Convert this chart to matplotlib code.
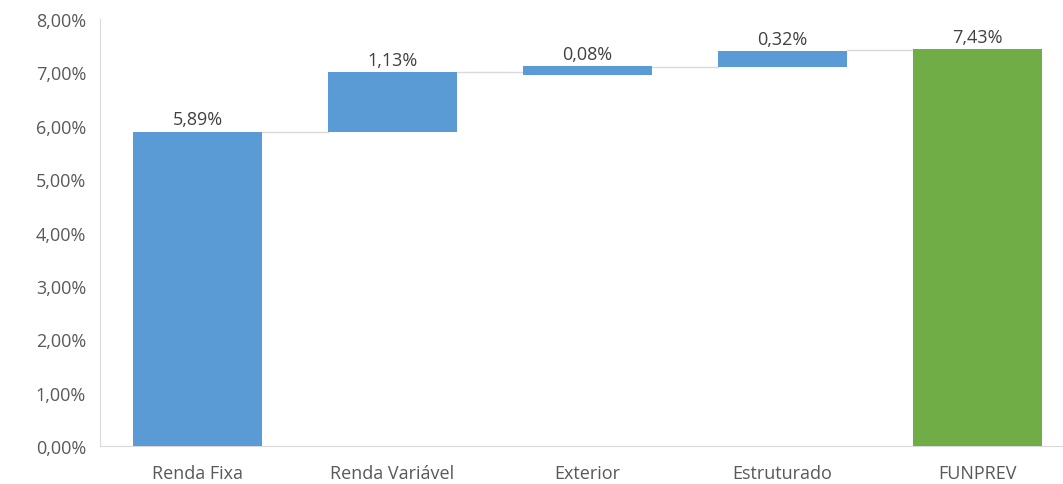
import matplotlib.pyplot as plt
from matplotlib.ticker import FuncFormatter

categories = ['Renda Fixa', 'Renda Variável', 'Exterior', 'Estruturado', 'FUNPREV']
labels = ['5,89%', '1,13%', '0,08%', '0,32%', '7,43%']
# bar extents as they appear in the picture (in %)
bottoms = [0.0, 5.89, 6.95, 7.10, 0.0]
tops = [5.89, 7.00, 7.12, 7.40, 7.43]
# connector levels between consecutive bars
links = [5.89, 7.00, 7.09, 7.42]
colors = ['#5B9BD5', '#5B9BD5', '#5B9BD5', '#5B9BD5', '#70AD47']

plt.rcParams['font.family'] = ['Open Sans', 'DejaVu Sans']

fig = plt.figure(figsize=(10.63, 4.85), dpi=100)
ax = fig.add_axes([0.094, 0.078, 0.906, 0.881])

x = range(len(categories))
w = 0.66
heights = [t - b for t, b in zip(tops, bottoms)]
ax.bar(x, heights, bottom=bottoms, width=w, color=colors, zorder=3)

for i, lv in enumerate(links):
    ax.plot([i + w / 2, i + 1 - w / 2], [lv, lv], color='#D9D9D9', lw=1, zorder=2)

for i, (t, lab) in enumerate(zip(tops, labels)):
    ax.text(i, t + 0.06, lab, ha='center', va='bottom', fontsize=13, color='#404040')

ax.set_xlim(-0.5, 4.44)
ax.set_ylim(0, 8)
ax.set_yticks(range(0, 9))
ax.yaxis.set_major_formatter(FuncFormatter(lambda v, p: f'{v:.2f}%'.replace('.', ',')))
ax.set_xticks(list(x))
ax.set_xticklabels(categories)
ax.tick_params(axis='both', length=0, labelsize=13, colors='#595959')
ax.tick_params(axis='x', pad=13)
ax.tick_params(axis='y', pad=10)

for s in ['top', 'right']:
    ax.spines[s].set_visible(False)
for s in ['left', 'bottom']:
    ax.spines[s].set_color('#D9D9D9')

fig.savefig('out.png', dpi=100)
